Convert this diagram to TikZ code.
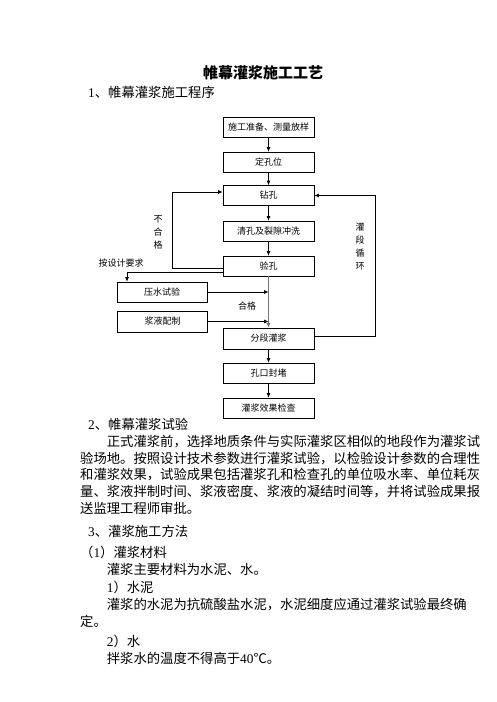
\documentclass[tikz,border=0pt]{standalone}
\usepackage{fontspec}
\setmainfont{Noto Sans CJK SC}
\newfontfamily\lat{Liberation Serif}
\usetikzlibrary{arrows.meta}
\begin{document}
\begin{tikzpicture}[x=1pt,y=-1pt,
  box/.style={draw, line width=0.7pt, minimum width=91pt, minimum height=20pt, inner sep=0pt, font=\fontsize{9}{11}\selectfont},
  arr/.style={line width=0.7pt, -{Latex[length=4.5pt,width=4pt]}},
  garr/.style={line width=1pt, draw=black!55, -{Latex[length=4.5pt,width=4pt]}},
  body/.style={anchor=base west, inner sep=0pt, font=\fontsize{13.33}{16}\selectfont},
  lbl/.style={inner sep=0pt, font=\fontsize{9}{13}\selectfont, align=center}]
\path[use as bounding box] (0,0) rectangle (496,702);
% title
\node[anchor=base, inner sep=0pt, font=\fontsize{15}{18}\selectfont\bfseries] (title) at (263,78.7) {帷幕灌浆施工工艺};
\node[body] (h1) at (88,97) {{\lat 1}、帷幕灌浆施工程序};
% flowchart
\node[box] (b1) at (268.5,127) {施工准备、测量放样};
\node[box] (b2) at (268.5,162) {定孔位};
\node[box] (b3) at (268.5,195.5) {钻孔};
\node[box] (b4) at (268.5,231) {清孔及裂隙冲洗};
\node[box] (b5) at (268.5,266) {验孔};
\node[box, minimum width=90pt] (b6) at (162,292) {压水试验};
\node[box, minimum width=90.5pt, minimum height=21pt] (b7) at (162.5,321.5) {浆液配制};
\node[box, minimum height=21pt] (b8) at (268.5,338.5) {分段灌浆};
\node[box] (b9) at (268.5,373) {孔口封堵};
\node[box] (b10) at (268.5,408) {灌浆效果检查};
\draw[arr] (b1) -- (b2);
\draw[arr] (b2) -- (b3);
\draw[arr] (b3) -- (b4);
\draw[arr] (b4) -- (b5);
\draw[garr] (b5) -- (b8);
\draw[arr] (b8) -- (b9);
\draw[arr] (b9) -- (b10);
\draw[arr] ([yshift=-2pt]b5.west) -- ++(-50.3,0) |- ([yshift=3.5pt]b3.west);
\draw[arr] ([yshift=-6.7pt]b5.west) -| ([xshift=-35pt]b6.north);
\draw[arr] (b6.east) -- (b6.east -| b5.south);
\draw[arr] (b7.east) -- (b7.east -| b5.south);
\draw[arr] ([yshift=2.5pt]b8.east) -- ++(61,0) |- (b3.east);
\node[lbl] (l1) at (158,232) {不\\合\\格};
\node[lbl] (l2) at (360,247) {灌\\段\\循\\环};
\node[lbl] (l3) at (121,263) {按设计要求};
\node[lbl] (l4) at (247,306) {合格};
% body text
\node[body] (t1) at (88,429) {{\lat 2}、帷幕灌浆试验};
\node[body] (t2) at (106.7,446) {正式灌浆前，选择地质条件与实际灌浆区相似的地段作为灌浆试};
\node[body] (t3) at (80,463) {验场地。按照设计技术参数进行灌浆试验，以检验设计参数的合理性};
\node[body] (t4) at (80,479) {和灌浆效果，试验成果包括灌浆孔和检查孔的单位吸水率、单位耗灰};
\node[body] (t5) at (80,496) {量、浆液拌制时间、浆液密度、浆液的凝结时间等，并将试验成果报};
\node[body] (t6) at (80,513) {送监理工程师审批。};
\node[body] (t7) at (88,536) {{\lat 3}、灌浆施工方法};
\node[body] (t8) at (80,557) {（{\lat 1}）灌浆材料};
\node[body] (t9) at (106.7,574) {灌浆主要材料为水泥、水。};
\node[body] (t10) at (106.7,592) {{\lat 1}）水泥};
\node[body] (t11) at (106.7,609) {灌浆的水泥为抗硫酸盐水泥，水泥细度应通过灌浆试验最终确};
\node[body] (t12) at (80,626) {定。};
\node[body] (t13) at (106.7,646) {{\lat 2}）水};
\node[body] (t14) at (106.7,663) {拌浆水的温度不得高于{\lat 40}℃。};
\end{tikzpicture}
\end{document}
